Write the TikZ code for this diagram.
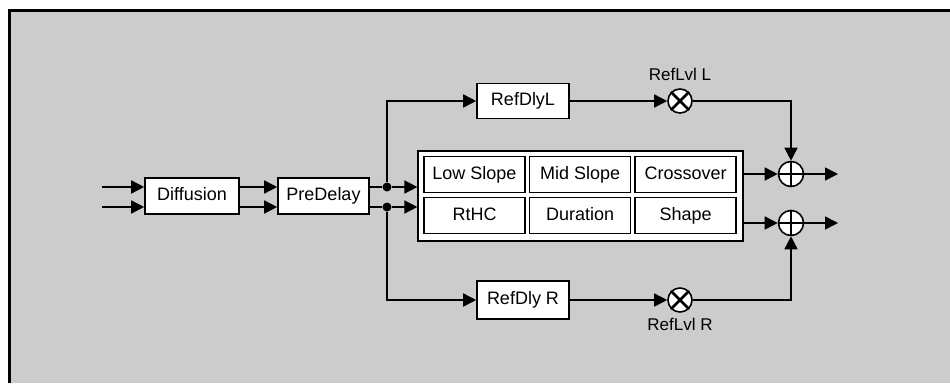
\documentclass[tikz,border=0pt]{standalone}
\usepackage{fontspec}
\setmainfont{Liberation Sans}
\usetikzlibrary{arrows.meta,positioning}
\definecolor{panelgrey}{RGB}{204,204,204}

\begin{document}
\begin{tikzpicture}[
        x=1pt, y=-1pt,
        >={Triangle[length=13pt,width=13pt]},
        line width=1.6pt,
        block/.style={
            draw,
            fill=white,
            line width=1.6pt,
            minimum height=36pt,
            inner sep=0pt,
            text height=13pt,
            text depth=4pt,
            font=\fontsize{18}{20}\selectfont
        },
        cell/.style={block, minimum width=101pt, minimum height=36pt},
        junc/.style={circle, fill, inner sep=0pt, minimum size=9pt},
        sumnode/.style={circle, draw, fill=white, line width=1.6pt, inner sep=0pt, minimum size=25pt},
        lbl/.style={font=\fontsize{17}{19}\selectfont}
    ]
        % page and panel
        \useasboundingbox (0,0) rectangle (950,383);
        \fill[white] (0,0) rectangle (950,383);
        \fill[panelgrey] (8,9) rectangle (950,383);
        \draw[line width=3pt] (9.5,383) -- (9.5,10.5) -- (950,10.5);

        % inputs and first stages
        \coordinate (inT) at (102,187);
        \coordinate (inB) at (102,207);
        \node[block, minimum width=94pt] (diff) at (192,196) {Diffusion};
        \node[block, minimum width=91pt] (pre) at (323.5,196) {PreDelay};
        \node[junc] (dotT) at (387,187) {};
        \node[junc] (dotB) at (387,207) {};

        % reflection delays and levels
        \node[block, minimum width=92pt, minimum height=35pt] (dlyL) at (523,101) {RefDlyL};
        \node[block, minimum width=92pt, minimum height=38pt] (dlyR) at (523,300) {RefDly R};
        \node[sumnode, minimum size=24pt] (mulL) at (680,101) {};
        \node[sumnode, minimum size=24pt] (mulR) at (680,300) {};
        \node[lbl, above=3pt of mulL] (lvlL) {RefLvl L};
        \node[lbl, below=1pt of mulR] (lvlR) {RefLvl R};

        % reverb block
        \node[draw, fill=white, line width=1.2pt, minimum width=325pt,
            minimum height=90pt, inner sep=0pt] (mat) at (580.5,196) {};
        \node[cell] (c11) at (474.5,174.5) {Low Slope};
        \node[cell, right=3pt of c11] (c12) {Mid Slope};
        \node[cell, right=3pt of c12] (c13) {Crossover};
        \node[cell, below=3.5pt of c11] (c21) {RtHC};
        \node[cell, right=3pt of c21] (c22) {Duration};
        \node[cell, right=3pt of c22] (c23) {Shape};

        % summing points and outputs
        \node[sumnode] (addL) at (791,174) {};
        \node[sumnode] (addR) at (791,223) {};
        \coordinate (outT) at (838,174);
        \coordinate (outB) at (838,223);

        % crosses inside the round nodes
        \foreach \m in {mulL,mulR}
            \draw[line width=2.6pt] (\m.north west) -- (\m.south east)
                (\m.north east) -- (\m.south west);
        \foreach \a in {addL,addR}
            \draw[line width=2pt] (\a.north) -- (\a.south)
                (\a.west) -- (\a.east);

        % signal lines
        \draw[->] (inT) -- (inT -| diff.west);
        \draw[->] (inB) -- (inB -| diff.west);
        \draw[->] (diff.east |- inT) -- (pre.west |- inT);
        \draw[->] (diff.east |- inB) -- (pre.west |- inB);
        \draw (pre.east |- dotT) -- (dotT);
        \draw (pre.east |- dotB) -- (dotB);
        \draw[->] (dotT) -- (dotT -| mat.west);
        \draw[->] (dotB) -- (dotB -| mat.west);
        \draw[->] (dotT) |- (dlyL);
        \draw[->] (dotB) |- (dlyR);
        \draw[->] (dlyL) -- (mulL);
        \draw[->] (dlyR) -- (mulR);
        \draw[->] (mulL) -| (addL);
        \draw[->] (mulR) -| (addR);
        \draw[->] (mat.east |- addL) -- (addL);
        \draw[->] (mat.east |- addR) -- (addR);
        \draw[->] (addL) -- (outT);
        \draw[->] (addR) -- (outB);
    \end{tikzpicture}
\end{document}
